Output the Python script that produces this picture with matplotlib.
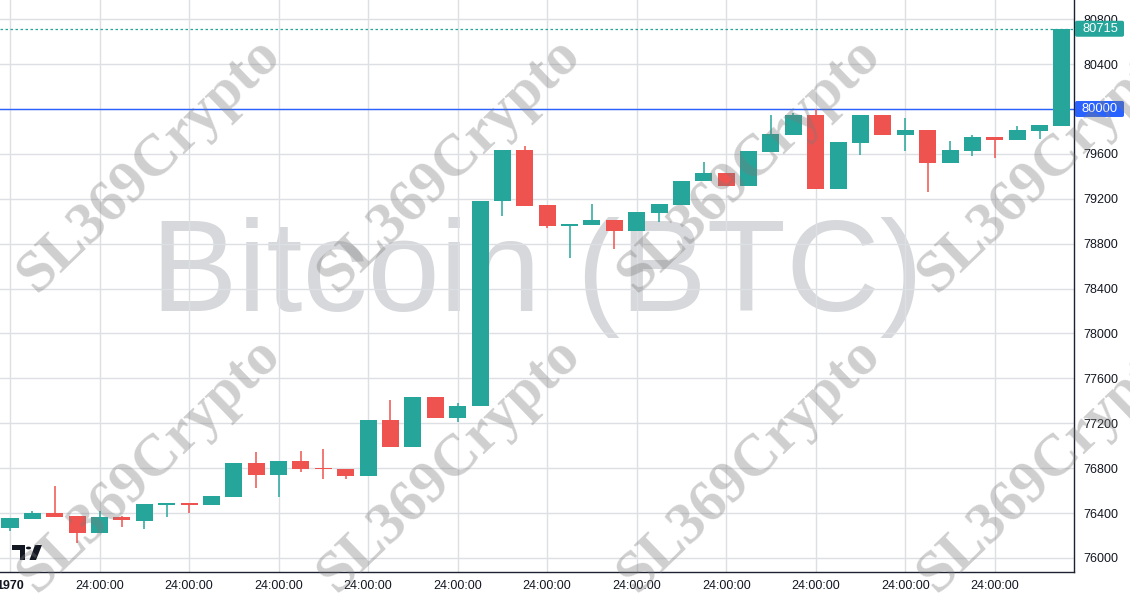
import numpy as np
import matplotlib
matplotlib.use("Agg")
import matplotlib.pyplot as plt
from matplotlib.patches import Polygon, Circle, FancyBboxPatch
from matplotlib.transforms import blended_transform_factory

plt.rcParams["font.family"] = ["Liberation Sans", "DejaVu Sans"]

UP, DOWN = "#26a69a", "#ef5350"
GRID, AXIS, TXT = "#dcdfe4", "#1e2230", "#131722"
BLUE = "#2962ff"

# ── candle data ────────────────────────────────────────────────────────────────
opens  = [76270, 76350, 76401, 76374, 76225, 76365, 76332, 76475, 76481, 76475,
          76546, 76846, 76742, 76864, 76795, 76795, 76733, 77229, 76991, 77437,
          77250, 77354, 79180, 79635, 79145, 78960, 78969, 79011, 78916, 79076,
          79145, 79359, 79430, 79317, 79620, 79771, 79947, 79287, 79700, 79947,
          79771, 79813, 79522, 79628, 79751, 79727, 79807, 79851]
highs  = [76359, 76419, 76641, 76374, 76416, 76374, 76481, 76481, 76481, 76552,
          76846, 76947, 76864, 76956, 76971, 76795, 77229, 77407, 77437, 77437,
          77378, 79180, 79635, 79673, 79145, 78973, 79154, 79011, 79082, 79154,
          79359, 79528, 79430, 79626, 79947, 79967, 79997, 79706, 79947, 79947,
          79922, 79813, 79715, 79768, 79751, 79849, 79857, 80715]
lows   = [76243, 76350, 76368, 76136, 76225, 76279, 76261, 76368, 76403, 76475,
          76546, 76626, 76546, 76769, 76706, 76706, 76733, 76991, 76991, 77250,
          77214, 77354, 79049, 79139, 78943, 78675, 78969, 78753, 78916, 78996,
          79145, 79359, 79317, 79317, 79620, 79771, 79287, 79287, 79590, 79771,
          79628, 79263, 79522, 79584, 79566, 79727, 79733, 79851]
closes = [76359, 76401, 76368, 76225, 76365, 76336, 76481, 76481, 76475, 76552,
          76846, 76742, 76864, 76795, 76790, 76733, 77229, 76991, 77437, 77250,
          77354, 79180, 79635, 79139, 78960, 78973, 79011, 78916, 79082, 79154,
          79359, 79430, 79317, 79626, 79777, 79947, 79287, 79706, 79947, 79771,
          79813, 79522, 79635, 79751, 79727, 79813, 79857, 80715]

last_price = 80715
ref_price = 80000
y_ticks = list(range(76000, 80801, 400))
x_labels = ["1970"] + ["24:00:00"] * 11

W, H = 1130, 600
fig = plt.figure(figsize=(W / 100, H / 100), dpi=100, facecolor="white")
ax = fig.add_axes([0, 28 / H, 1074 / W, 572 / H])
ax.set_facecolor("white")

idx = np.arange(len(opens))
o = np.array(opens, float); c = np.array(closes, float)
hi = np.array(highs, float); lo = np.array(lows, float)
cols = [UP if cc >= oo else DOWN for oo, cc in zip(o, c)]

ax.vlines(idx, lo, hi, colors=cols, linewidth=1.1, zorder=3)
body = np.maximum(np.abs(c - o), 12)
ax.bar(idx, body, bottom=np.minimum(o, c), width=0.76, color=cols,
       linewidth=0, zorder=4)

ax.set_xlim(-0.447, 47.54)
ax.set_ylim(75875, 80971)

# grid / axes
ax.set_axisbelow(True)
ax.set_xticks(idx[::4])
ax.set_xticklabels(x_labels)
ax.set_yticks(y_ticks)
ax.grid(True, color=GRID, linewidth=1)
ax.yaxis.tick_right()
ax.tick_params(axis="both", length=0, labelsize=9, colors=TXT)
ax.tick_params(axis="y", pad=7)
ax.tick_params(axis="x", pad=6)
for lbl in ax.get_yticklabels():
    lbl.set_horizontalalignment("left")
ax.get_xticklabels()[0].set_fontweight("bold")
for s in ["top", "left"]:
    ax.spines[s].set_visible(False)
for s in ["right", "bottom"]:
    ax.spines[s].set_color(AXIS)
    ax.spines[s].set_linewidth(1)

# big pane watermark
ax.text(0.5, 1 - 311 / 572, "Bitcoin (BTC)", transform=ax.transAxes,
        ha="center", va="baseline", fontsize=93.5, color="#d7d8db", zorder=0.2)

# reference / last-price lines
ax.axhline(ref_price, color=BLUE, linewidth=1, zorder=2)
ax.axhline(last_price, color=UP, linewidth=0.9, linestyle=(0, (2, 2)), zorder=2)

# price labels on the scale
tr = blended_transform_factory(ax.transAxes, ax.transData)
units_per_px = (80971 - 75875) / 572
box_h = 16 * units_per_px
for val, col in [(last_price, UP), (ref_price, BLUE)]:
    ax.add_patch(FancyBboxPatch((1.0 + 1 / 1074, val - box_h / 2), 49 / 1074, box_h,
                                boxstyle="round,pad=0,rounding_size=0.002",
                                transform=tr, facecolor=col, edgecolor="none",
                                clip_on=False, zorder=9, mutation_aspect=box_h * 50))
    ax.text(1.0 + 26 / 1074, val, f"{val}", transform=tr, ha="center", va="center",
            fontsize=9.3, color="white", clip_on=False, zorder=10)

# tradingview logo
def px(x, y):
    return (x / W, 1 - y / H)

logo = "#131722"
fig.patches.append(Polygon([px(12, 545), px(25, 545), px(25, 560), px(19.5, 560),
                            px(19.5, 550), px(12, 550)], closed=True,
                           transform=fig.transFigure, facecolor=logo, edgecolor="none"))
fig.patches.append(Circle(px(28.5, 548), 2.6 / W, transform=fig.transFigure,
                          facecolor=logo, edgecolor="none"))
fig.patches.append(Polygon([px(35, 545), px(42, 545), px(36, 560), px(29.5, 560)],
                           closed=True, transform=fig.transFigure,
                           facecolor=logo, edgecolor="none"))

# repeated diagonal watermark
for cy in [165, 465]:
    for cx in [150, 450, 750, 1050]:
        fig.text(cx / W, 1 - cy / H, "SL369Crypto", rotation=44,
                 ha="center", va="center", fontsize=42.5, fontweight="bold",
                 family=["Liberation Serif", "DejaVu Serif"],
                 color="#7a7a7a", alpha=0.36, zorder=20)

fig.savefig("out.png", dpi=100, facecolor="white")
